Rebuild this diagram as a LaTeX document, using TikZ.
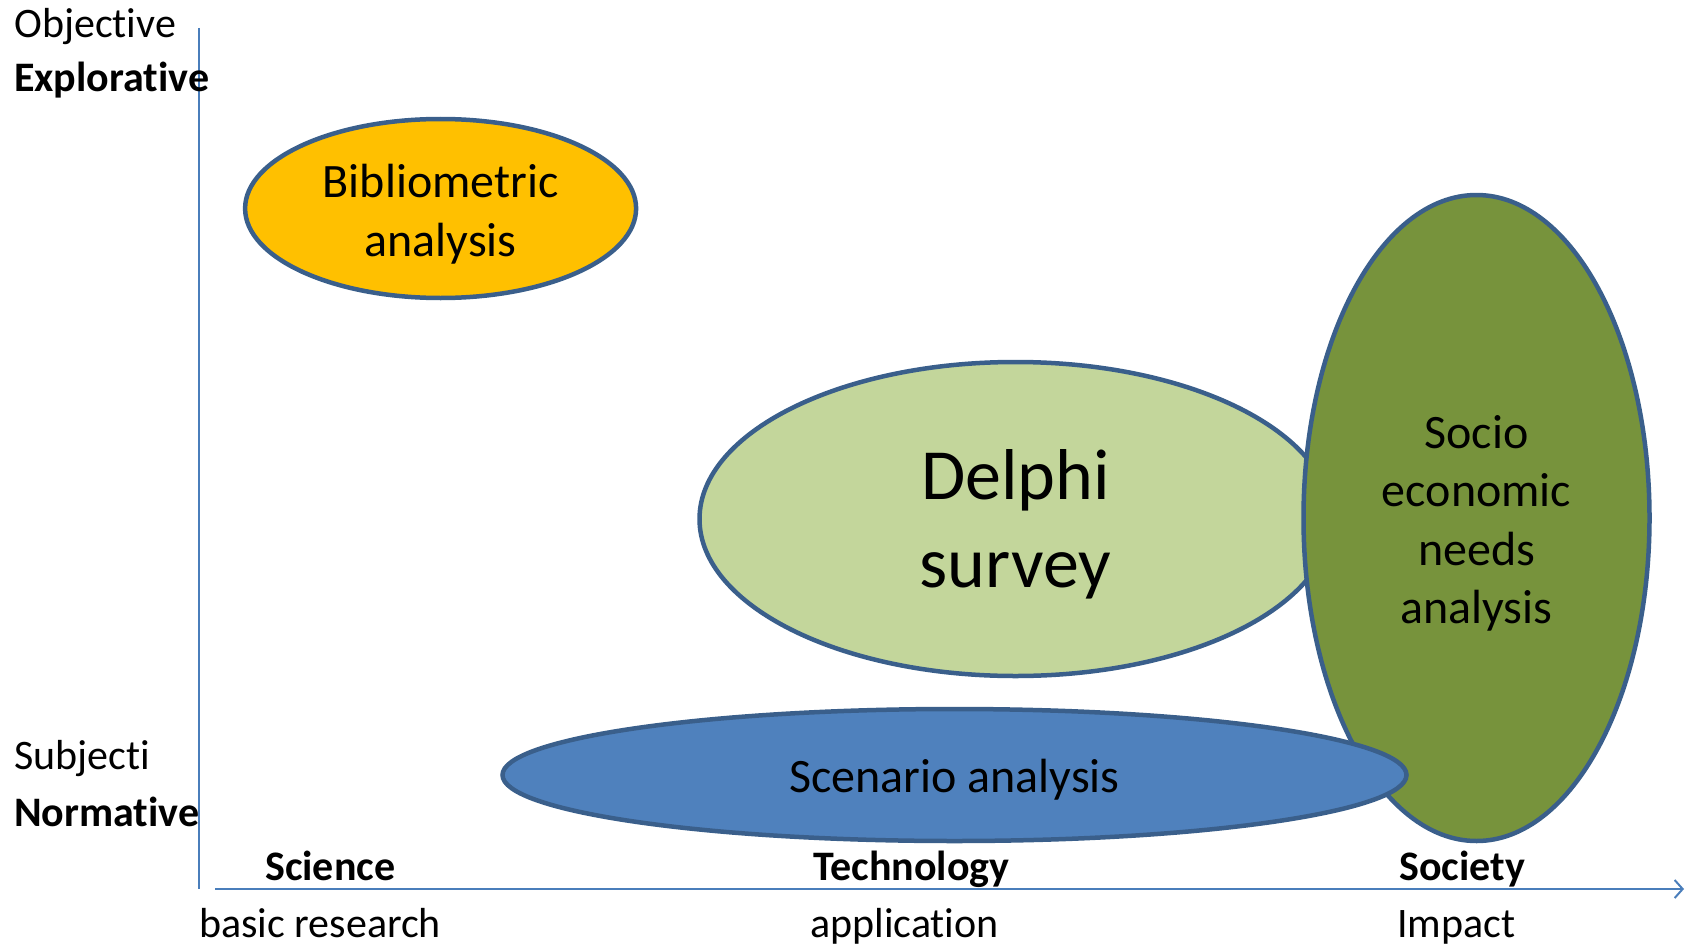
\documentclass[tikz,border=0pt]{standalone}
\usepackage{fontspec}
\setmainfont{Carlito}[Ligatures=NoCommon]
\usetikzlibrary{shapes.geometric,arrows.meta}
\definecolor{edgeblue}{HTML}{3A5F8B}
\definecolor{axisblue}{HTML}{4A7EBB}
\definecolor{biblio}{HTML}{FFC000}
\definecolor{delphi}{HTML}{C3D69B}
\definecolor{socio}{HTML}{77933C}
\definecolor{scen}{HTML}{4F81BD}
\tikzset{
  blob/.style={ellipse, draw=edgeblue, line width=4.5pt, inner sep=0pt},
  btext/.style={inner sep=0pt, align=center, yshift=-5.5pt,
    font=\fontsize{48}{58.5}\selectfont},
  lab/.style={anchor=base west, inner sep=0pt, font=\fontsize{42}{50}\selectfont},
  blab/.style={lab, font=\fontsize{42}{50}\selectfont\bfseries},
  axisline/.style={draw=axisblue, line width=2pt}
}
\begin{document}
\begin{tikzpicture}[x=1pt,y=-1pt]
\useasboundingbox (0,0) rectangle (1685,947);
% axes
\coordinate (vtop) at (199,28);
\coordinate (vbot) at (199,889);
\coordinate (hstart) at (215,889);
\coordinate (hend) at (1684,889);
\draw[axisline] (vtop) -- (vbot);
\draw[axisline, -{Straight Barb[length=8pt,width=18pt,line width=2pt]}] (hstart) -- (hend);
% ellipses
\node[blob, fill=biblio, minimum width=391pt, minimum height=179pt] (bib) at (440.6,208.5) {};
\node[btext] (bibt) at (bib.center) {Bibliometric\\analysis};
\node[blob, fill=delphi, minimum width=632pt, minimum height=314pt] (del) at (1015.5,519) {};
\node[btext, font=\fontsize{72}{88}\selectfont] (delt) at (del.center) {Delphi\\survey};
\node[blob, fill=socio, minimum width=346pt, minimum height=646pt] (soc) at (1476.5,518) {};
\node[btext] (soct) at (soc.center) {Socio\\economic\\needs\\analysis};
\node[blob, fill=scen, minimum width=904pt, minimum height=132pt] (scn) at (954.5,775) {};
\node[btext, yshift=1pt] (scnt) at (scn.center) {Scenario analysis};
% left labels
\node[lab] (obj) at (14,37.5) {Objective};
\node[blab] (expl) at (14,92) {Explorative};
\node[lab] (subj) at (14,769) {Subjecti};
\node[blab] (norm) at (14,826) {Normative};
% bottom labels
\node[blab] (sci) at (265,880.5) {Science};
\node[blab] (tech) at (813,880.5) {Technology};
\node[blab] (socy) at (1399,880.5) {Society};
\node[lab] (basic) at (199,937) {basic research};
\node[lab] (appl) at (810,937) {application};
\node[lab] (imp) at (1397,937) {Impact};
\end{tikzpicture}
\end{document}
